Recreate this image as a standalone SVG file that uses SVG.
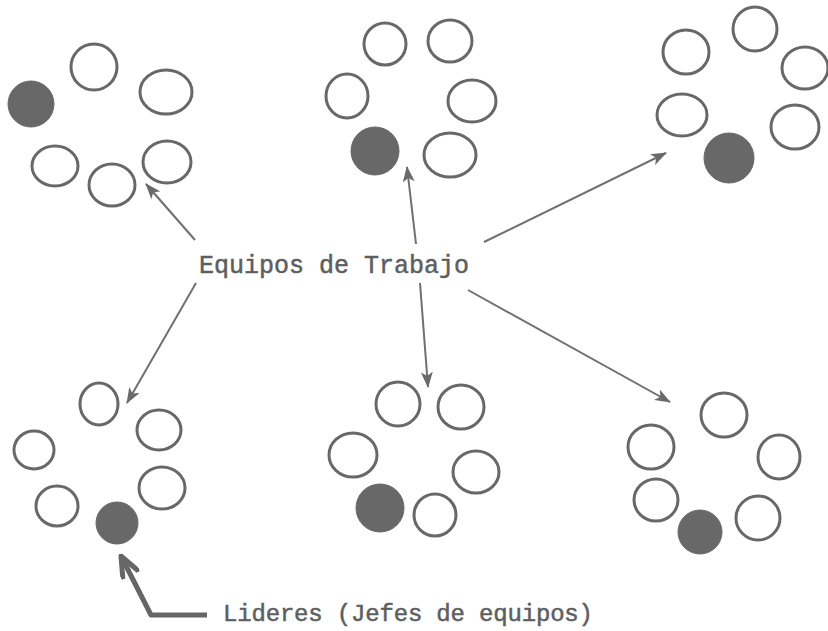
<svg xmlns="http://www.w3.org/2000/svg" width="828" height="631" viewBox="0 0 828 631">
<style>
.m{fill:none;stroke:#686868;stroke-width:3}
.l{fill:#686868;stroke:#686868;stroke-width:1}
.c{stroke:#707070;stroke-width:2;fill:none}
.t{font-family:"Liberation Mono","Courier New",monospace;fill:#5e5e5e;stroke:#5e5e5e;stroke-width:0.5;font-size:25px}
</style>
<defs>
<marker id="ah" viewBox="0 0 16 12" refX="15" refY="6" markerWidth="16" markerHeight="12" markerUnits="userSpaceOnUse" orient="auto">
<path d="M0,0 L16,6 L0,12 L4,6 Z" fill="#6a6a6a"/>
</marker>
<marker id="ah2" viewBox="0 0 24 20" refX="22" refY="10" markerWidth="24" markerHeight="20" markerUnits="userSpaceOnUse" orient="auto">
<path d="M0,1 L22,10 L0,19" fill="none" stroke="#666" stroke-width="5" stroke-linejoin="round"/>
</marker>
</defs>
<rect width="828" height="631" fill="#ffffff"/>
<g id="team1">
<circle class="l" cx="31" cy="104" r="23"/>
<ellipse class="m" cx="94" cy="67" rx="23" ry="23"/>
<ellipse class="m" cx="166" cy="92" rx="26" ry="22"/>
<ellipse class="m" cx="55" cy="166" rx="23" ry="20"/>
<ellipse class="m" cx="112" cy="185" rx="23" ry="21"/>
<ellipse class="m" cx="167" cy="162" rx="24" ry="21"/>
</g>
<g id="team2">
<ellipse class="m" cx="385" cy="44" rx="21" ry="21"/>
<ellipse class="m" cx="450" cy="41" rx="22" ry="21"/>
<ellipse class="m" cx="347" cy="96" rx="21" ry="22"/>
<ellipse class="m" cx="472" cy="101" rx="24" ry="21"/>
<circle class="l" cx="375" cy="151" r="24"/>
<ellipse class="m" cx="450" cy="155" rx="26" ry="22"/>
</g>
<g id="team3">
<ellipse class="m" cx="755" cy="29" rx="22" ry="22"/>
<ellipse class="m" cx="686" cy="52" rx="23" ry="22"/>
<ellipse class="m" cx="805" cy="68" rx="23" ry="21"/>
<ellipse class="m" cx="682" cy="115" rx="25" ry="21"/>
<ellipse class="m" cx="795" cy="127" rx="24" ry="22"/>
<circle class="l" cx="729" cy="158" r="25"/>
</g>
<g id="team4">
<ellipse class="m" cx="99" cy="404" rx="19" ry="21"/>
<ellipse class="m" cx="159" cy="430" rx="22" ry="20"/>
<ellipse class="m" cx="34" cy="450" rx="20" ry="19"/>
<ellipse class="m" cx="162" cy="488" rx="23" ry="21"/>
<ellipse class="m" cx="57" cy="506" rx="21" ry="20"/>
<circle class="l" cx="117" cy="523" r="21"/>
</g>
<g id="team5">
<ellipse class="m" cx="398" cy="404" rx="22" ry="22"/>
<ellipse class="m" cx="461" cy="407" rx="23" ry="22"/>
<ellipse class="m" cx="353" cy="455" rx="24" ry="22"/>
<ellipse class="m" cx="476" cy="472" rx="23" ry="21"/>
<circle class="l" cx="380" cy="508" r="24"/>
<ellipse class="m" cx="435" cy="515" rx="21" ry="21"/>
</g>
<g id="team6">
<ellipse class="m" cx="724" cy="415" rx="23" ry="22"/>
<ellipse class="m" cx="651" cy="447" rx="23" ry="22"/>
<ellipse class="m" cx="779" cy="457" rx="21" ry="22"/>
<ellipse class="m" cx="656" cy="500" rx="22" ry="21"/>
<ellipse class="m" cx="758" cy="518" rx="22" ry="22"/>
<circle class="l" cx="700" cy="532" r="22"/>
</g>
<g id="labels">
<text class="t" x="199" y="273">Equipos de Trabajo</text>
<text class="t" x="223" y="621" style="font-size:24px" textLength="370">Lideres (Jefes de equipos)</text>
</g>
<g id="connectors">
<line class="c" x1="195" y1="240" x2="146" y2="184" marker-end="url(#ah)"/>
<line class="c" x1="416" y1="244" x2="407" y2="167" marker-end="url(#ah)"/>
<line class="c" x1="484" y1="242" x2="666" y2="153" marker-end="url(#ah)"/>
<line class="c" x1="196" y1="283" x2="127" y2="403" marker-end="url(#ah)"/>
<line class="c" x1="420" y1="283" x2="428" y2="387" marker-end="url(#ah)"/>
<line class="c" x1="468" y1="290" x2="670" y2="402" marker-end="url(#ah)"/>
<path d="M207,615 L151,615 L121,556" fill="none" stroke="#666" stroke-width="5" stroke-linejoin="round" marker-end="url(#ah2)"/>
</g>
</svg>
